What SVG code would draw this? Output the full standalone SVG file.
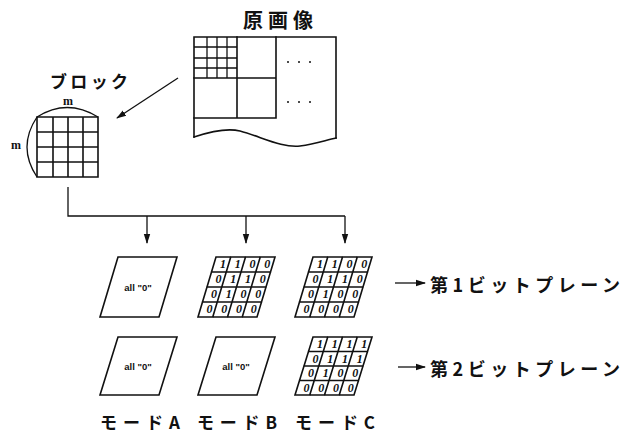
<svg xmlns="http://www.w3.org/2000/svg" width="631" height="437" viewBox="0 0 631 437">
<style>
.ln{fill:none;stroke:#111;stroke-width:1.6;stroke-linecap:square}
.thin{fill:none;stroke:#111;stroke-width:1.3}
.jp{font-family:"Noto Sans CJK JP","Noto Sans CJK SC",sans-serif;font-weight:700;fill:#111}
.lat{font-family:"Liberation Serif",serif;font-weight:700;fill:#111}
.dg{font-family:"Liberation Serif",serif;font-style:italic;font-weight:700;font-size:12px;fill:#111;text-anchor:middle}
.al{font-family:"Liberation Sans",sans-serif;font-weight:700;font-size:9.5px;fill:#111;text-anchor:middle}
.dot{fill:#111}
</style>
<defs>
<marker id="ah" markerWidth="10" markerHeight="8" refX="9" refY="4" orient="auto" markerUnits="userSpaceOnUse">
<path d="M0,0.8 L10,4 L0,7.2 Z" fill="#111"/>
</marker>
</defs>

<g id="original">
<text class="jp" x="243" y="28" font-size="20" textLength="70" lengthAdjust="spacing">原画像</text>
<path class="ln" d="M194,37 H336 V138 M194,37 V137"/>
<path class="ln" d="M194,137 C212,131 228,128 240,131 C262,137 282,148 300,146 C316,144 326,140 336,138"/>
<path class="thin" d="M207,37 V78 M217,37 V78 M227,37 V78 M194,47 H237 M194,58 H237 M194,68 H237"/>
<path class="ln" d="M237,37 V118 M276,37 V118 M194,78 H276 M194,118 H276"/>
<circle class="dot" cx="288" cy="62" r="1"/><circle class="dot" cx="299" cy="62" r="1"/><circle class="dot" cx="310" cy="62" r="1"/>
<circle class="dot" cx="288" cy="102" r="1"/><circle class="dot" cx="299" cy="102" r="1"/><circle class="dot" cx="310" cy="102" r="1"/>
</g>

<g id="block">
<text class="jp" x="50" y="88" font-size="17" textLength="78" lengthAdjust="spacing">ブロック</text>
<text class="lat" x="68" y="105" font-size="12" text-anchor="middle">m</text>
<text class="lat" x="16" y="149" font-size="12" text-anchor="middle">m</text>
<path class="thin" d="M37,117 Q67,98 98,117 M37,117 Q17,147 37,177"/>
<path class="ln" d="M37,117 H98 V177 H37 Z M53,117 V177 M68,117 V177 M83,117 V177 M37,132 H98 M37,147 H98 M37,162 H98"/>
</g>

<g id="connectors">
<line class="thin" x1="178" y1="78" x2="117" y2="118" marker-end="url(#ah)"/>
<path class="thin" d="M68,187 V216 H345"/>
<line class="thin" x1="147" y1="216" x2="147" y2="243" marker-end="url(#ah)"/>
<line class="thin" x1="246" y1="216" x2="246" y2="243" marker-end="url(#ah)"/>
<line class="thin" x1="345" y1="216" x2="345" y2="243" marker-end="url(#ah)"/>
<line class="thin" x1="395" y1="283" x2="425" y2="283" marker-end="url(#ah)"/>
<line class="thin" x1="398" y1="367" x2="425" y2="367" marker-end="url(#ah)"/>
</g>

<g id="modeA1">
<path class="ln" d="M118,257 H177 L159,317 H100 Z"/>
<text class="al" x="138" y="291">all "0"</text>
</g>

<g id="modeB1">
<path class="ln" d="M216,257 H275 L257,317 H198 Z M211.5,272 H270.5 M207,287 H266 M202.5,302 H261.5 M230.75,257 L212.75,317 M245.5,257 L227.5,317 M260.25,257 L242.25,317"/>
<g>
<text class="dg" x="223" y="268">1</text><text class="dg" x="237.75" y="268">1</text><text class="dg" x="252.5" y="268">0</text><text class="dg" x="267.25" y="268">0</text>
<text class="dg" x="218.5" y="283">0</text><text class="dg" x="233.25" y="283">1</text><text class="dg" x="248" y="283">1</text><text class="dg" x="262.75" y="283">0</text>
<text class="dg" x="214" y="298">0</text><text class="dg" x="228.75" y="298">1</text><text class="dg" x="243.5" y="298">0</text><text class="dg" x="258.25" y="298">0</text>
<text class="dg" x="209.5" y="313">0</text><text class="dg" x="224.25" y="313">0</text><text class="dg" x="239" y="313">0</text><text class="dg" x="253.75" y="313">0</text>
</g>
</g>

<g id="modeC1">
<path class="ln" d="M313,257 H372 L354,317 H295 Z M308.5,272 H367.5 M304,287 H363 M299.5,302 H358.5 M327.75,257 L309.75,317 M342.5,257 L324.5,317 M357.25,257 L339.25,317"/>
<g>
<text class="dg" x="320" y="268">1</text><text class="dg" x="334.75" y="268">1</text><text class="dg" x="349.5" y="268">0</text><text class="dg" x="364.25" y="268">0</text>
<text class="dg" x="315.5" y="283">0</text><text class="dg" x="330.25" y="283">1</text><text class="dg" x="345" y="283">1</text><text class="dg" x="359.75" y="283">0</text>
<text class="dg" x="311" y="298">0</text><text class="dg" x="325.75" y="298">1</text><text class="dg" x="340.5" y="298">0</text><text class="dg" x="355.25" y="298">0</text>
<text class="dg" x="306.5" y="313">0</text><text class="dg" x="321.25" y="313">0</text><text class="dg" x="336" y="313">0</text><text class="dg" x="350.75" y="313">0</text>
</g>
</g>

<g id="plane1">
<text class="jp" x="430" y="292" font-size="18" textLength="190" lengthAdjust="spacing">第1ビットプレーン</text>
</g>

<g id="modeA2">
<path class="ln" d="M118,337 H177 L159,395 H100 Z"/>
<text class="al" x="138" y="370">all "0"</text>
</g>

<g id="modeB2">
<path class="ln" d="M216,337 H275 L257,395 H198 Z"/>
<text class="al" x="236" y="370">all "0"</text>
</g>

<g id="modeC2">
<path class="ln" d="M313,337 H372 L354,395 H295 Z M308.5,351.5 H367.5 M304,366 H363 M299.5,380.5 H358.5 M327.75,337 L309.75,395 M342.5,337 L324.5,395 M357.25,337 L339.25,395"/>
<g>
<text class="dg" x="320" y="348">1</text><text class="dg" x="334.75" y="348">1</text><text class="dg" x="349.5" y="348">1</text><text class="dg" x="364.25" y="348">1</text>
<text class="dg" x="315.5" y="362.5">0</text><text class="dg" x="330.25" y="362.5">1</text><text class="dg" x="345" y="362.5">1</text><text class="dg" x="359.75" y="362.5">1</text>
<text class="dg" x="311" y="377">0</text><text class="dg" x="325.75" y="377">1</text><text class="dg" x="340.5" y="377">0</text><text class="dg" x="355.25" y="377">0</text>
<text class="dg" x="306.5" y="391.5">0</text><text class="dg" x="321.25" y="391.5">0</text><text class="dg" x="336" y="391.5">0</text><text class="dg" x="350.75" y="391.5">0</text>
</g>
</g>

<g id="plane2">
<text class="jp" x="430" y="376" font-size="18" textLength="190" lengthAdjust="spacing">第2ビットプレーン</text>
</g>

<g id="labels">
<text class="jp" x="100" y="429" font-size="17" textLength="80" lengthAdjust="spacing">モードA</text>
<text class="jp" x="197" y="429" font-size="17" textLength="80" lengthAdjust="spacing">モードB</text>
<text class="jp" x="295" y="429" font-size="17" textLength="80" lengthAdjust="spacing">モードC</text>
</g>
</svg>
